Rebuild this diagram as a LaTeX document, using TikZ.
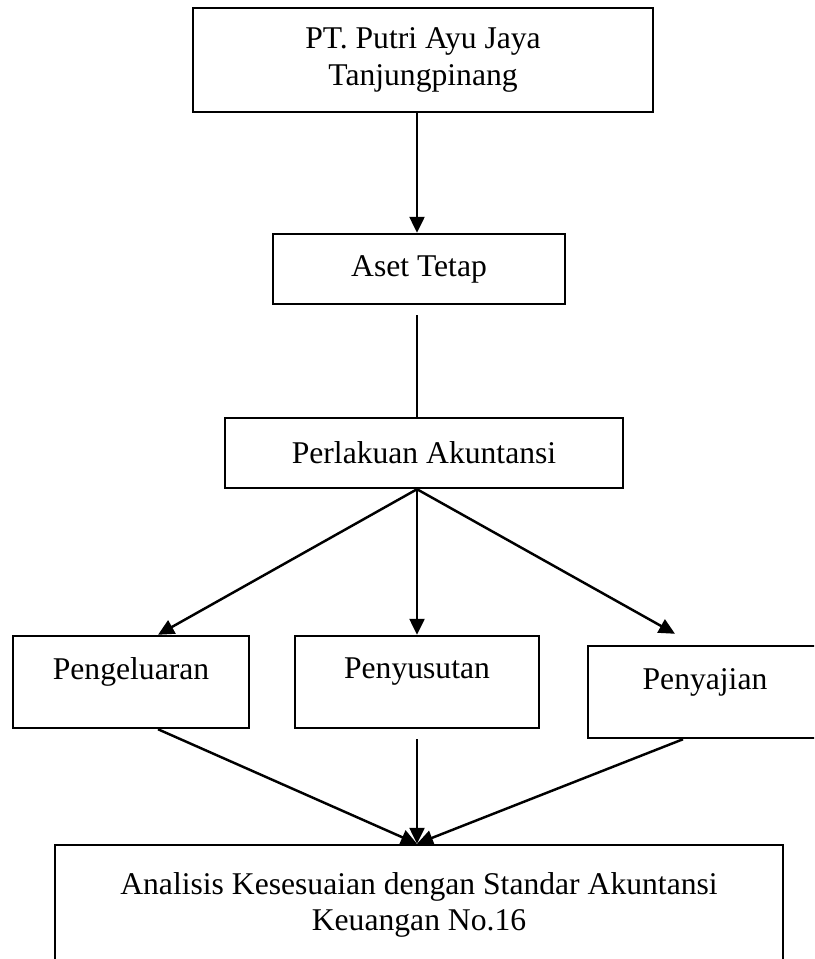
\documentclass[tikz,border=0pt]{standalone}
\usepackage{fontspec}
\setmainfont{Liberation Serif}
\usetikzlibrary{arrows.meta}

\begin{document}
\begin{tikzpicture}[
    box/.style={rectangle, draw=black, line width=1.4pt, align=center, inner sep=0pt, font=\fontsize{18}{21}\selectfont},
    arrow/.style={-{Triangle[length=0.32cm, width=0.3cm]}, line width=1.4pt},
    link/.style={line width=1pt}
]
    \clip (0,0) rectangle (16.28,-19.18);

    % Perusahaan
    \node[box, minimum width=9.2cm, minimum height=2.08cm] (pt) at (8.46,-1.2) {PT. Putri Ayu Jaya\\Tanjungpinang};

    % Aset Tetap
    \node[box, minimum width=5.84cm, minimum height=1.4cm] (aset) at (8.38,-5.38) {Aset Tetap};

    % Perlakuan Akuntansi
    \node[box, minimum width=7.96cm, minimum height=1.4cm] (perlakuan) at (8.48,-9.06) {Perlakuan Akuntansi};

    % Tiga unsur
    \node[box, minimum width=4.72cm, minimum height=1.84cm] (pengeluaran) at (2.62,-13.64) {Pengeluaran\\[-0.2cm]\mbox{}};
    \node[box, minimum width=4.88cm, minimum height=1.84cm] (penyusutan) at (8.34,-13.64) {Penyusutan\\[-0.2cm]\mbox{}};
    \node[box, minimum width=4.68cm, minimum height=1.84cm] (penyajian) at (14.1,-13.84) {Penyajian\\[-0.2cm]\mbox{}};

    % Analisis
    \node[box, minimum width=14.56cm, minimum height=3cm] (analisis) at (8.38,-18.4) {Analisis Kesesuaian dengan Standar Akuntansi\\Keuangan No.16\\\mbox{}};

    \coordinate (fork) at (perlakuan.south -| 8.34,0);
    \coordinate (merge) at (analisis.north -| 8.34,0);

    % Alur atas
    \draw[arrow] (pt.south -| fork) -- (aset.north -| fork);
    \draw[link] ([yshift=-0.2cm]aset.south -| fork) -- (perlakuan.north -| fork);

    % Percabangan
    \draw[arrow] (fork) -- ([xshift=0.54cm]pengeluaran.north);
    \draw[arrow] (fork) -- (penyusutan.north);
    \draw[arrow] (fork) -- ([xshift=-0.6cm, yshift=0.22cm]penyajian.north);

    % Menuju analisis
    \draw[arrow] ([xshift=0.54cm]pengeluaran.south) -- (merge);
    \draw[arrow] ([yshift=-0.2cm]penyusutan.south) -- (merge);
    \draw[arrow] ([xshift=-0.44cm]penyajian.south) -- (merge);
\end{tikzpicture}
\end{document}
